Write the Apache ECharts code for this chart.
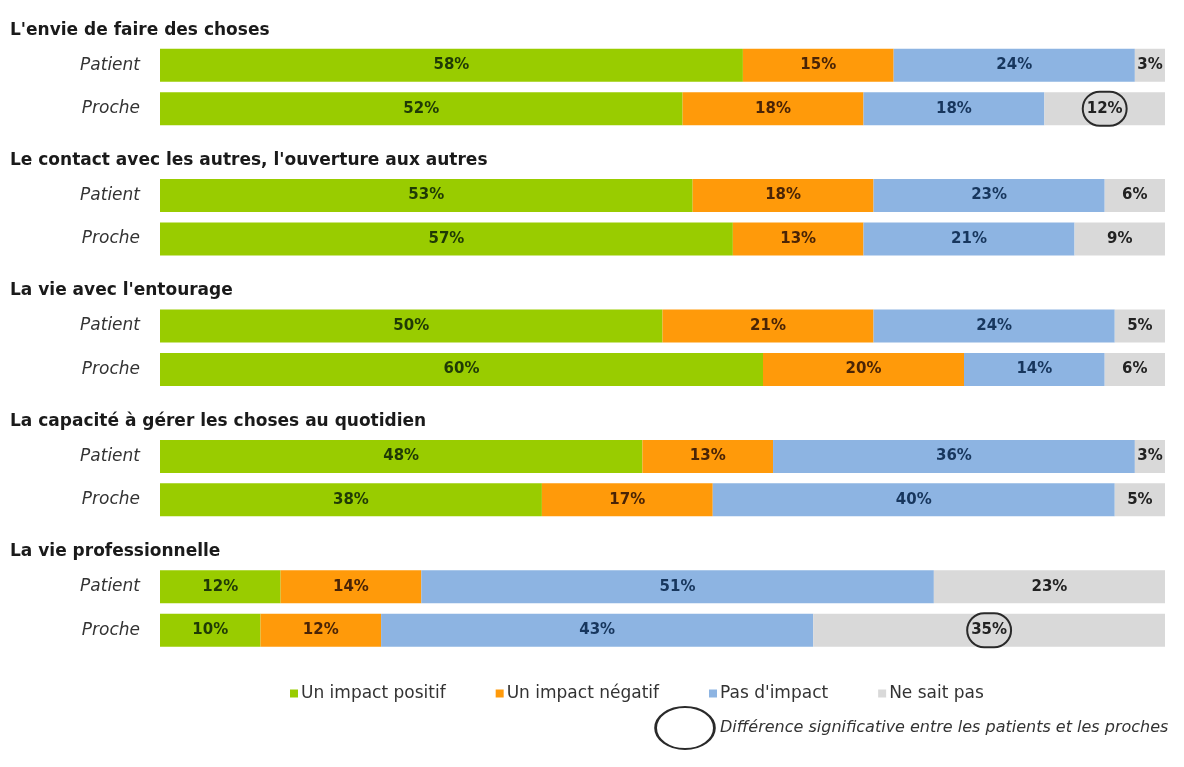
<!DOCTYPE html>
<html lang="fr">
<head>
<meta charset="utf-8">
<title>Impact perçu – patients et proches</title>
<script src="https://cdn.jsdelivr.net/npm/echarts@6/dist/echarts.min.js"></script>
<style>
  html, body { margin: 0; padding: 0; background: #ffffff; }
  #chart { width: 1184px; height: 767px; }
</style>
</head>
<body>
<div id="chart"></div>
<script>
// Thèmes (un groupe de deux barres chacun)
const groups = [
  "L'envie de faire des choses",
  "Le contact avec les autres, l'ouverture aux autres",
  "La vie avec l'entourage",
  "La capacité à gérer les choses au quotidien",
  "La vie professionnelle"
];
const respondents = ['Patient', 'Proche'];

// Pourcentages, dans l'ordre : thème 1 Patient, thème 1 Proche, thème 2 Patient, ...
const positif   = [58, 52, 53, 57, 50, 60, 48, 38, 12, 10];
const negatif   = [15, 18, 18, 13, 21, 20, 13, 17, 14, 12];
const pasImpact = [24, 18, 23, 21, 24, 14, 36, 40, 51, 43];
const neSaitPas = [3, 12, 6, 9, 5, 6, 3, 5, 23, 35];

// Lignes où l'écart patients / proches est significatif (série « Ne sait pas »)
const significatif = [1, 9];

const seriesNames = ['Un impact positif', 'Un impact négatif', "Pas d'impact", 'Ne sait pas'];
const colors = ['#99cc00', '#ff9a0a', '#8db4e2', '#d9d9d9'];
const labelColors = ['#1f3a05', '#4a2406', '#17365d', '#222222'];

// Un emplacement de titre puis deux emplacements de barres par thème
const slots = [];
const titleBySlot = {};
const rowBySlot = {};
groups.forEach((g, gi) => {
  const tId = 't' + gi;
  slots.push(tId);
  titleBySlot[tId] = g;
  respondents.forEach((r, ri) => {
    const id = 'r' + gi + '_' + ri;
    slots.push(id);
    rowBySlot[id] = { label: r, index: gi * 2 + ri };
  });
});

// Valeurs réparties sur les emplacements ; les valeurs entourées portent un cadre arrondi
function toSlots(values, circled) {
  return slots.map(id => {
    const row = rowBySlot[id];
    if (!row) return null;
    const v = values[row.index];
    if (circled && circled.includes(row.index)) {
      return {
        value: v,
        label: {
          borderColor: '#2a2a2a',
          borderWidth: 2,
          borderRadius: 22,
          padding: [10, 4, 9, 4]
        }
      };
    }
    return v;
  });
}

const valueSets = [positif, negatif, pasImpact, neSaitPas];
const FONT = 'DejaVu Sans, Liberation Sans, Arial, sans-serif';

const series = valueSets.map((vals, i) => ({
  name: seriesNames[i],
  type: 'bar',
  stack: 'total',
  barWidth: 33,
  data: toSlots(vals, i === 3 ? significatif : null),
  itemStyle: { color: colors[i] },
  label: {
    show: true,
    position: 'inside',
    formatter: '{c}%',
    color: labelColors[i],
    fontFamily: FONT,
    fontWeight: 'bold',
    fontSize: 15
  },
  emphasis: { disabled: true }
}));

const chart = echarts.init(document.getElementById('chart'), null, { renderer: 'canvas' });

chart.setOption({
  backgroundColor: '#ffffff',
  animation: false,
  grid: { left: 160, right: 19, top: 0, height: 652, containLabel: false },
  xAxis: {
    type: 'value',
    min: 0,
    max: 100,
    show: false
  },
  yAxis: [
    {
      type: 'category',
      data: slots,
      inverse: true,
      position: 'left',
      axisLine: { show: false },
      axisTick: { show: false },
      splitLine: { show: false },
      axisLabel: {
        margin: 20,
        interval: 0,
        formatter: id => (rowBySlot[id] ? rowBySlot[id].label : ''),
        fontFamily: FONT,
        fontStyle: 'italic',
        fontSize: 17,
        color: '#333333'
      }
    },
    {
      type: 'category',
      data: slots,
      inverse: true,
      position: 'left',
      offset: 0,
      axisLine: { show: false },
      axisTick: { show: false },
      splitLine: { show: false },
      axisLabel: {
        margin: 150,
        interval: 0,
        align: 'left',
        formatter: id => (titleBySlot[id] ? '{t|' + titleBySlot[id] + '}' : ''),
        rich: {
          t: {
            fontFamily: FONT,
            fontWeight: 'bold',
            fontSize: 17,
            color: '#1a1a1a',
            padding: [17, 0, 0, 0]
          }
        }
      }
    }
  ],
  legend: {
    data: seriesNames,
    top: 680,
    left: 285,
    icon: 'rect',
    itemWidth: 8,
    itemHeight: 8,
    itemGap: 50,
    selectedMode: false,
    textStyle: { fontFamily: FONT, fontSize: 17, color: '#333333', padding: [0, 0, 0, -2] }
  },
  graphic: [
    {
      type: 'circle',
      shape: { cx: 0, cy: 0, r: 21 },
      x: 685,
      y: 728,
      scaleX: 1.4,
      style: { fill: 'none', stroke: '#2a2a2a', lineWidth: 2 }
    },
    {
      type: 'text',
      x: 720,
      y: 728,
      style: {
        text: 'Différence significative entre les patients et les proches',
        fontFamily: FONT,
        fontStyle: 'italic',
        fontSize: 16,
        fill: '#333333',
        verticalAlign: 'middle'
      }
    }
  ],
  series: series
});
</script>
</body>
</html>
